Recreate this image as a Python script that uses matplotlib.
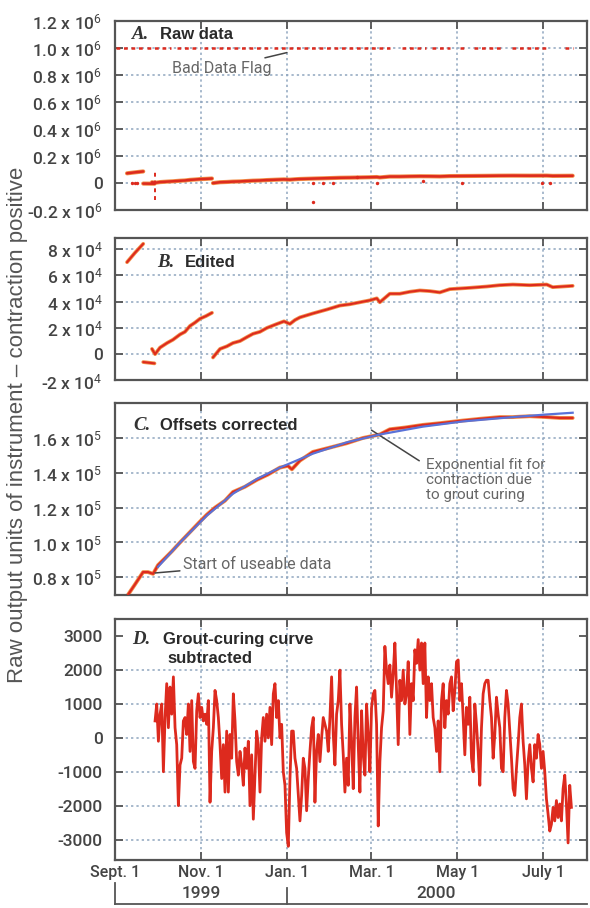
import numpy as np
import matplotlib
matplotlib.use("Agg")
import matplotlib.pyplot as plt
from matplotlib.lines import Line2D
import matplotlib.transforms as mtransforms

NARROW = ['Roboto', 'DejaVu Sans']
SANS = ['Liberation Sans', 'DejaVu Sans']
plt.rcParams['mathtext.fontset'] = 'custom'
plt.rcParams['mathtext.rm'] = 'Roboto'
plt.rcParams['mathtext.it'] = 'Roboto'

RED = '#dd2a1e'
HALO = '#f2904a'
BLUE = '#5a72d8'
GRID = '#8fa6bf'
FRAME = '#555555'
TXT = '#444444'

# x axis: days since Sept. 1 1999
x_ticks = [0, 61, 122, 182, 243, 304]
x_labels = ['Sept. 1', 'Nov. 1', 'Jan. 1', 'Mar. 1', 'May 1', 'July 1']
x_max = 335

# ---- B. edited data (x 10^4) ----
b1_day = [8.5, 14, 20]
b1_val = [7.0, 7.7, 8.4]
b2_day = [20, 28]
b2_val = [-0.6, -0.7]
b3_day = [26.2, 28.4, 31.9, 36.9, 41.1, 46.1, 49.6, 53.2, 56.7, 60.3, 64.5, 68.8]
b3_val = [0.4, 0.0, 0.5, 0.85, 1.1, 1.5, 1.7, 2.15, 2.4, 2.7, 2.9, 3.15]
b4_day = [69.5, 74.5, 79.4, 83.7, 88.7, 93.6, 97.9, 102.8, 107.8, 114.9, 119.9,
          124.1, 127.7, 131.2, 140.4, 150.4, 159.6, 166.7, 173.8, 180.9, 185.8,
          187.9, 195.0, 202.1, 209.2, 216.3, 223.4, 230.5, 237.6, 244.7, 251.8,
          263.8, 273.0, 282.3, 294.3, 306.4, 310.6, 317.7, 324.8]
b4_val = [-0.25, 0.4, 0.6, 0.85, 1.0, 1.3, 1.55, 1.7, 2.0, 2.3, 2.5,
          2.3, 2.6, 2.8, 3.1, 3.4, 3.7, 3.8, 3.95, 4.1, 4.25,
          3.95, 4.6, 4.6, 4.75, 4.85, 4.8, 4.7, 4.95, 5.0, 5.05,
          5.15, 5.25, 5.3, 5.25, 5.3, 5.1, 5.15, 5.2]

# ---- A. raw data extras (x 10^6) ----
flag_segments = [(1, 20), (23, 40), (44, 60), (63, 110), (113, 195), (204, 221),
                 (225, 238), (245, 250), (255, 274), (282, 308), (319, 325)]
spike_day = 28.4
spike_lo, spike_hi = -0.125, 0.095
outlier_day = [12, 14, 15.6, 140.4, 140.4, 147.5, 154.6, 171.6, 185.8, 218.4, 246.0, 302.8, 308.5]
outlier_val = [0.0, 0.0, 0.0, -0.14, 0.0, 0.0, 0.0, 0.045, 0.0, 0.01, 0.0, 0.0, 0.0]

# ---- C. offsets corrected (x 10^5) ----
c_day = [9.2, 14.2, 19.9, 23.4, 27.0, 30.5, 35.5, 40.4, 46.1, 53.2, 60.3, 65.2,
         70.9, 78.0, 83.7, 92.2, 100.7, 108.5, 117.0, 122.7, 125.5, 131.2, 140.4,
         152.5, 164.5, 175.9, 187.9, 195.0, 205.7, 218.4, 230.5, 246.8, 258.9,
         273.0, 282.3, 294.3, 306.4, 315.6, 324.8]
c_val = [0.70, 0.76, 0.83, 0.83, 0.82, 0.87, 0.91, 0.95, 1.0, 1.06, 1.12, 1.16,
         1.20, 1.24, 1.29, 1.32, 1.36, 1.39, 1.43, 1.44, 1.42, 1.47, 1.52,
         1.545, 1.57, 1.60, 1.62, 1.65, 1.66, 1.675, 1.685, 1.70, 1.71,
         1.72, 1.72, 1.725, 1.72, 1.715, 1.715]
fit_day = [30.5, 46.1, 65.2, 83.7, 100.7, 117.0, 140.4, 164.5, 187.9, 218.4,
           246.8, 282.3, 306.4, 324.8]
fit_val = [0.86, 1.0, 1.155, 1.28, 1.365, 1.43, 1.51, 1.575, 1.62, 1.665,
           1.695, 1.72, 1.735, 1.745]

# ---- D. grout-curing curve subtracted ----
d_start, d_end = 28.4, 323.9
d_val = [500, 1000, -100, 700, 1000, -1000, 600, 1600, 300, 1500, 700, 1800,
         300, -200, -2000, -800, -600, 500, 600, 100, 1000, -400, 1100, -700,
         -900, 800, 1300, 600, 900, 500, 700, 400, 1100, -1900, -400, 300,
         1400, 1100, 600, -200, -1200, -200, -1600, 200, -1600, 100, -600, 1300,
         500, -700, -1100, -400, -800, -1400, -300, -900, -100, -2000, -500, -2400,
         -1100, 200, -200, -1600, 0, 600, -100, 700, 0, 900, -200, 1300,
         1600, 600, 1100, 0, 400, -1000, -1400, -2800, -3200, -1200, 200, 200,
         # Jan. onward
         -600, -900, -1700, -2450, -1700, -600, -900, -2150, -1200, -400, 300, 600,
         -1900, -400, 100, -700, 0, 600, 400, 200, -400, 600, 1800, 100,
         -800, 700, 1100, 2000, 400, -500, -1600, -600, -1400, 1000, -100, -1500,
         600, 1500, -200, -1600, 800, -500, -1100, 1000, 100, -1000, 900, 1300,
         1400, 400, -2600, -700, 300, 800, 2700, 2000, 1600, 2150, 1200, 1900,
         2800, 1400, -200, 1700, 1100, 2000, 1000, 1300, 2250, 100, 1600, 1100,
         2600, 2200, 2900, 2000, 2800, 1600, 2800, 600, 1800, 1100, 1600, 600,
         300, -400, 500,
         # May onward
         -1000, 1100, 1600, 300, 1100, 700, 1600, 1800, 800, 1400, 2250, 2300,
         1100, 1600, 600, -500, 900, 400, 1200, -600, -1000, 1000, 400, -400,
         -1400, 300, 1300, 1600, 1700, 1700, 1100, 600, -600, 100, 1200, 700,
         300, -900, -1000, 600, 1400, 1000, 200, -600, -1500, -1700, -900, -200,
         600, 1000, -100, -800, -1800, -700, -200, -900, -1300, -200, -600, 100,
         -200, -900, -400, -1000, -1800, -2250, -2750, -2550, -2050, -2450, -1850, -2350,
         -1950, -2450, -1500, -1100, -1950, -3100, -1400, -2050]
d_day = np.linspace(d_start, d_end, len(d_val))


def style_axes(ax, ylim, yticks, ylabels, grid_y):
    ax.set_xlim(0, x_max)
    ax.set_ylim(*ylim)
    ax.set_xticks(x_ticks)
    ax.set_xticklabels([])
    ax.set_yticks(yticks)
    ax.set_yticklabels(ylabels, fontfamily=NARROW, fontsize=12.5, color=TXT,
                       fontweight='medium')
    ax.tick_params(direction='in', length=6, width=1.3, color=FRAME,
                   top=True, right=True, pad=9)
    for sp in ax.spines.values():
        sp.set_color(FRAME)
        sp.set_linewidth(1.6)
    for d in x_ticks[1:]:
        ax.axvline(d, color=GRID, ls=(0, (1.5, 2)), lw=1.1, zorder=0)
    for g in grid_y:
        ax.axhline(g, color=GRID, ls=(0, (1.5, 2)), lw=1.1, zorder=0)


def panel_title(ax, letter, text, x, y, x2):
    ax.text(x, y, letter, transform=ax.transAxes, fontfamily=['Liberation Serif', 'DejaVu Serif'],
            fontstyle='italic', fontweight='bold', fontsize=13.5, color='#333333', va='center')
    ax.text(x2, y, text, transform=ax.transAxes, fontfamily=SANS, fontweight='bold',
            fontsize=12, color='#2a2a2a', va='center', linespacing=1.0)


def trace(ax, x, y, lw=1.6):
    ax.plot(x, y, color=HALO, lw=lw + 1.2, solid_capstyle='round', zorder=2)
    ax.plot(x, y, color=RED, lw=lw, solid_capstyle='round', zorder=3)


fig = plt.figure(figsize=(5.9, 9.08), dpi=100)
L, W = 0.195, 0.800
axA = fig.add_axes([L, 0.769, W, 0.208])
axB = fig.add_axes([L, 0.581, W, 0.157])
axC = fig.add_axes([L, 0.345, W, 0.211])
axD = fig.add_axes([L, 0.053, W, 0.265])

# A. raw data
style_axes(axA, (-0.2, 1.2), [-0.2, 0, 0.2, 0.4, 0.6, 0.8, 1.0, 1.2],
           [r'-0.2 x 10$^{6}$', '0', r'0.2 x 10$^{6}$', r'0.4 x 10$^{6}$',
            r'0.6 x 10$^{6}$', r'0.8 x 10$^{6}$', r'1.0 x 10$^{6}$', r'1.2 x 10$^{6}$'],
           [0, 0.2, 0.4, 0.6, 0.8, 1.0])
for s, e in flag_segments:
    axA.plot([s, e], [1.0, 1.0], color=RED, lw=1.8, ls=(0, (1.5, 1.5)), zorder=3)
for seg_d, seg_v in [(b1_day, b1_val), (b2_day, b2_val), (b3_day, b3_val), (b4_day, b4_val)]:
    trace(axA, seg_d, np.array(seg_v) / 100, lw=1.8)
axA.plot([spike_day, spike_day], [spike_lo, spike_hi], color=RED, lw=1.4,
         ls=(0, (2, 2)), zorder=3)
axA.scatter(outlier_day, outlier_val, s=6, color=RED, zorder=4, linewidths=0)
axA.annotate('Bad Data Flag', xy=(122, 0.965), xytext=(111, 0.85),
             fontfamily=NARROW, fontsize=11.5, color='#666666', ha='right', va='center',
             arrowprops=dict(arrowstyle='-', color='#444444', lw=1.1, shrinkA=0, shrinkB=0))
panel_title(axA, 'A.', 'Raw data', 0.036, 0.926, 0.095)

# B. edited
style_axes(axB, (-2, 8.85), [-2, 0, 2, 4, 6, 8],
           [r'-2 x 10$^{4}$', '0', r'2 x 10$^{4}$', r'4 x 10$^{4}$', r'6 x 10$^{4}$',
            r'8 x 10$^{4}$'],
           [0, 2, 4, 6, 8])
for seg_d, seg_v in [(b1_day, b1_val), (b2_day, b2_val), (b3_day, b3_val), (b4_day, b4_val)]:
    trace(axB, seg_d, seg_v, lw=1.5)
panel_title(axB, 'B.', 'Edited', 0.089, 0.83, 0.148)

# C. offsets corrected
style_axes(axC, (0.70, 1.80), [0.8, 1.0, 1.2, 1.4, 1.6],
           [r'0.8 x 10$^{5}$', r'1.0 x 10$^{5}$', r'1.2 x 10$^{5}$', r'1.4 x 10$^{5}$',
            r'1.6 x 10$^{5}$'],
           [0.8, 1.0, 1.2, 1.4, 1.6])
trace(axC, c_day, c_val, lw=1.6)
axC.plot(fit_day, fit_val, color=BLUE, lw=1.6, zorder=4)
axC.annotate('Start of useable data', xy=(28.4, 0.825), xytext=(48, 0.875),
             fontfamily=NARROW, fontsize=11.5, color='#666666', ha='left', va='center',
             arrowprops=dict(arrowstyle='-', color='#444444', lw=1.1, shrinkA=0, shrinkB=0))
axC.annotate('Exponential fit for\ncontraction due\nto grout curing',
             xy=(182, 1.645), xytext=(221, 1.36),
             fontfamily=NARROW, fontsize=11, color='#666666', ha='left', va='center',
             linespacing=1.1,
             arrowprops=dict(arrowstyle='-', color='#444444', lw=1.1, shrinkA=0, shrinkB=0,
                             relpos=(-0.06, 0.93)))
panel_title(axC, 'C.', 'Offsets corrected', 0.038, 0.885, 0.095)

# D. grout-curing curve subtracted
style_axes(axD, (-3600, 3500), [-3000, -2000, -1000, 0, 1000, 2000, 3000],
           ['-3000', '-2000', '-1000', '0', '1000', '2000', '3000'],
           [-3000, -2000, -1000, 0, 1000, 2000])
axD.plot(d_day, d_val, color=RED, lw=2.0, zorder=3)
axD.text(0.036, 0.917, 'D.', transform=axD.transAxes,
         fontfamily=['Liberation Serif', 'DejaVu Serif'], fontstyle='italic',
         fontweight='bold', fontsize=13.5, color='#333333', va='center')
axD.text(0.101, 0.917, 'Grout-curing curve', transform=axD.transAxes, fontfamily=SANS,
         fontweight='bold', fontsize=12, color='#2a2a2a', va='center')
axD.text(0.112, 0.838, 'subtracted', transform=axD.transAxes, fontfamily=SANS,
         fontweight='bold', fontsize=12, color='#2a2a2a', va='center')
axD.set_xticklabels(x_labels, fontfamily=NARROW, fontsize=11.5, color=TXT,
                    fontweight='medium')
axD.tick_params(axis='x', pad=4)

# year bracket under the date labels
tr = mtransforms.blended_transform_factory(axD.transData, fig.transFigure)
fig.add_artist(Line2D([0, x_max], [0.004, 0.004], transform=tr, color=FRAME, lw=1.3))
fig.add_artist(Line2D([0, 0], [0.004, 0.027], transform=tr, color=FRAME, lw=1.3))
fig.add_artist(Line2D([122, 122], [0.004, 0.022], transform=tr, color=FRAME, lw=1.3))
fig.text(61, 0.0165, '1999', transform=tr, ha='center', va='center',
         fontfamily=NARROW, fontsize=12.5, color=TXT, fontweight='medium')
fig.text(228, 0.0165, '2000', transform=tr, ha='center', va='center',
         fontfamily=NARROW, fontsize=12.5, color=TXT, fontweight='medium')

fig.text(0.030, 0.532, 'Raw output units of instrument \u2013 contraction positive',
         rotation=90, ha='center', va='center', fontfamily=SANS, fontsize=16,
         color='#555555')

fig.savefig('out.png', dpi=100)
